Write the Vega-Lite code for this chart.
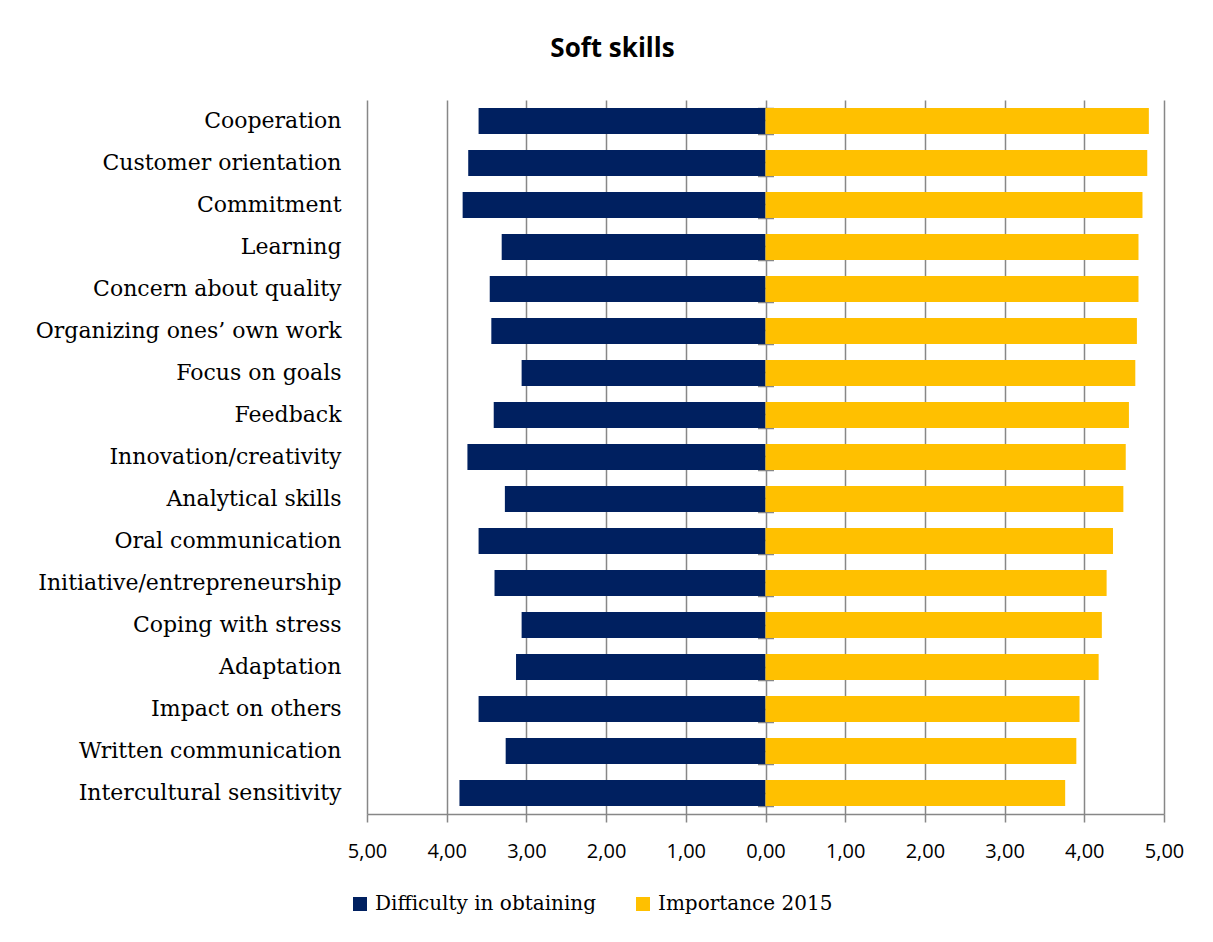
{
  "$schema": "https://vega.github.io/schema/vega-lite/v6.json",
  "width": 797,
  "height": 714,
  "autosize": {"type": "none"},
  "padding": {"left": 367, "top": 100, "right": 49, "bottom": 128},
  "background": "white",
  "config": {"view": {"stroke": null}},
  "title": {
    "text": "Soft skills",
    "font": "Open Sans",
    "fontSize": 26,
    "fontWeight": "bold",
    "color": "black",
    "anchor": "middle",
    "frame": "group",
    "dx": -153,
    "offset": 17,
    "baseline": "alphabetic"
  },
  "datasets": {
    "skills": [
      {"skill": "Cooperation", "series": "Difficulty in obtaining", "value": -3.60},
      {"skill": "Cooperation", "series": "Importance 2015", "value": 4.81},
      {"skill": "Customer orientation", "series": "Difficulty in obtaining", "value": -3.73},
      {"skill": "Customer orientation", "series": "Importance 2015", "value": 4.79},
      {"skill": "Commitment", "series": "Difficulty in obtaining", "value": -3.80},
      {"skill": "Commitment", "series": "Importance 2015", "value": 4.73},
      {"skill": "Learning ", "series": "Difficulty in obtaining", "value": -3.31},
      {"skill": "Learning ", "series": "Importance 2015", "value": 4.68},
      {"skill": "Concern about quality", "series": "Difficulty in obtaining", "value": -3.46},
      {"skill": "Concern about quality", "series": "Importance 2015", "value": 4.68},
      {"skill": "Organizing ones’ own work", "series": "Difficulty in obtaining", "value": -3.44},
      {"skill": "Organizing ones’ own work", "series": "Importance 2015", "value": 4.66},
      {"skill": "Focus on goals", "series": "Difficulty in obtaining", "value": -3.06},
      {"skill": "Focus on goals", "series": "Importance 2015", "value": 4.64},
      {"skill": "Feedback", "series": "Difficulty in obtaining", "value": -3.41},
      {"skill": "Feedback", "series": "Importance 2015", "value": 4.56},
      {"skill": "Innovation/creativity", "series": "Difficulty in obtaining", "value": -3.74},
      {"skill": "Innovation/creativity", "series": "Importance 2015", "value": 4.52},
      {"skill": "Analytical skills", "series": "Difficulty in obtaining", "value": -3.27},
      {"skill": "Analytical skills", "series": "Importance 2015", "value": 4.49},
      {"skill": "Oral communication", "series": "Difficulty in obtaining", "value": -3.60},
      {"skill": "Oral communication", "series": "Importance 2015", "value": 4.36},
      {"skill": "Initiative/entrepreneurship", "series": "Difficulty in obtaining", "value": -3.40},
      {"skill": "Initiative/entrepreneurship", "series": "Importance 2015", "value": 4.28},
      {"skill": "Coping with stress", "series": "Difficulty in obtaining", "value": -3.06},
      {"skill": "Coping with stress", "series": "Importance 2015", "value": 4.22},
      {"skill": "Adaptation", "series": "Difficulty in obtaining", "value": -3.13},
      {"skill": "Adaptation", "series": "Importance 2015", "value": 4.18},
      {"skill": "Impact on others", "series": "Difficulty in obtaining", "value": -3.60},
      {"skill": "Impact on others", "series": "Importance 2015", "value": 3.94},
      {"skill": "Written communication", "series": "Difficulty in obtaining", "value": -3.26},
      {"skill": "Written communication", "series": "Importance 2015", "value": 3.90},
      {"skill": "Intercultural sensitivity", "series": "Difficulty in obtaining", "value": -3.84},
      {"skill": "Intercultural sensitivity", "series": "Importance 2015", "value": 3.76}
    ]
  },
  "data": {"name": "skills"},
  "layer": [
    {
      "mark": {"type": "bar"},
      "encoding": {
        "y": {
          "field": "skill",
          "type": "nominal",
          "sort": null,
          "scale": {"paddingInner": 0.38, "paddingOuter": 0.19},
          "axis": {
            "title": null,
            "domain": false,
            "ticks": false,
            "grid": false,
            "labelFont": "DejaVu Serif",
            "labelFontSize": 22,
            "labelColor": "black",
            "labelPadding": 26,
            "labelLimit": 400
          }
        },
        "x": {
          "field": "value",
          "type": "quantitative",
          "scale": {"domain": [-5, 5], "nice": false, "zero": true},
          "axis": {
            "title": null,
            "values": [-5, -4, -3, -2, -1, 0, 1, 2, 3, 4, 5],
            "grid": true,
            "gridColor": "#878787",
            "gridWidth": 1.5,
            "domainColor": "#878787",
            "domainWidth": 1.5,
            "tickColor": "#878787",
            "tickWidth": 1.5,
            "tickSize": 8,
            "labelFont": "Open Sans",
            "labelFontSize": 20,
            "labelColor": "black",
            "labelPadding": 19,
            "labelFlush": false,
            "labelOverlap": false,
            "labelExpr": "replace(format(abs(datum.value), '.2f'), '.', ',')"
          }
        },
        "color": {
          "field": "series",
          "type": "nominal",
          "scale": {
            "domain": ["Difficulty in obtaining", "Importance 2015"],
            "range": ["#002060", "#FFC000"]
          },
          "legend": {
            "title": null,
            "orient": "none",
            "direction": "horizontal",
            "legendX": -17,
            "legendY": 794,
            "padding": 0,
            "symbolType": "square",
            "symbolSize": 196,
            "symbolStrokeWidth": 0,
            "labelFont": "DejaVu Serif",
            "labelFontSize": 20,
            "labelColor": "black",
            "labelOffset": 5,
            "columnPadding": 36,
            "labelLimit": 400
          }
        }
      }
    },
    {
      "mark": {"type": "rule", "opacity": 0},
      "encoding": {
        "y": {
          "field": "skill",
          "type": "nominal",
          "sort": null,
          "axis": {
            "orient": "right",
            "offset": -398.5,
            "title": null,
            "labels": false,
            "domain": false,
            "grid": false,
            "tickBand": "extent",
            "tickSize": 8,
            "tickColor": "#878787",
            "tickWidth": 1.5
          }
        }
      }
    },
    {
      "mark": {"type": "rule", "opacity": 0},
      "encoding": {
        "y": {
          "field": "skill",
          "type": "nominal",
          "sort": null,
          "axis": {
            "orient": "left",
            "offset": -398.5,
            "title": null,
            "labels": false,
            "domain": false,
            "grid": false,
            "tickBand": "extent",
            "tickSize": 8,
            "tickColor": "#878787",
            "tickWidth": 1.5
          }
        }
      }
    },
    {
      "mark": {"type": "rule", "opacity": 0},
      "encoding": {
        "y": {
          "field": "skill",
          "type": "nominal",
          "sort": null,
          "axis": {
            "orient": "left",
            "offset": -398.5,
            "title": null,
            "labels": false,
            "domain": false,
            "grid": false,
            "tickSize": 6,
            "tickColor": "#878787",
            "tickWidth": 1.5
          }
        }
      }
    }
  ],
  "resolve": {"axis": {"y": "independent"}}
}
